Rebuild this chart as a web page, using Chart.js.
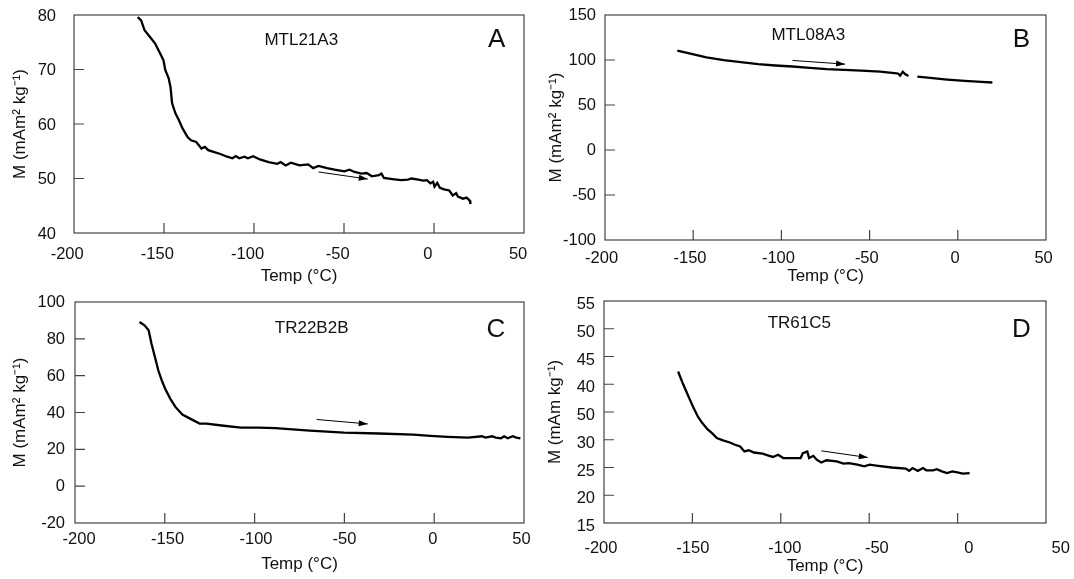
<!DOCTYPE html>
<html><head><meta charset="utf-8">
<script src="https://cdn.jsdelivr.net/npm/chart.js@4.4.1/dist/chart.umd.min.js"></script>
<style>
html,body{margin:0;padding:0;background:#fff;}
#wrap{position:relative;width:1074px;height:579px;overflow:hidden;background:#fff;}
canvas{position:absolute;}
</style></head><body>
<div id="wrap">
<canvas id="cA" width="537" height="290" style="left:0;top:0;width:537px;height:290px"></canvas>
<canvas id="cB" width="537" height="290" style="left:537px;top:0;width:537px;height:290px"></canvas>
<canvas id="cC" width="537" height="289" style="left:0;top:290px;width:537px;height:289px"></canvas>
<canvas id="cD" width="537" height="289" style="left:537px;top:290px;width:537px;height:289px"></canvas>
</div>
<script>
// ---------- data ----------
const xTicks = [-200, -150, -100, -50, 0, 50];
const xTickLabels = ['-200', '-150', '-100', '-50', '0', '50'];

const yTicksA = [40, 50, 60, 70, 80];
const yLabelsA = ['40', '50', '60', '70', '80'];
const yTicksB = [-100, -50, 0, 50, 100, 150];
const yLabelsB = ['-100', '-50', '0', '50', '100', '150'];
const yTicksC = [-20, 0, 20, 40, 60, 80, 100];
const yLabelsC = ['-20', '0', '20', '40', '60', '80', '100'];
const yTicksD = [15, 20, 25, 30, 35, 40, 45, 50, 55];
const yLabelsD = ['15', '20', '25', '30', '50', '40', '45', '50', '55'];

const tempA = [-164.6,-162.7,-160.8,-157.9,-155.0,-152.2,-150.3,-149.3,-147.4,-146.4,
  -145.5,-143.6,-141.7,-139.7,-136.9,-135.0,-132.1,-129.2,-127.3,-125.4,
  -122.5,-118.7,-114.9,-112.0,-110.1,-108.2,-105.3,-103.4,-100.5,-96.7,
  -91.9,-87.1,-85.2,-82.4,-79.5,-74.7,-69.9,-67.1,-64.2,-59.4,
  -54.6,-49.8,-47.0,-44.1,-40.3,-37.4,-34.5,-30.7,-29.2,-27.8,
  -23.1,-18.3,-14.5,-12.5,-8.7,-5.9,-3.9,-2.0,-0.5,0.3,
  1.8,3.3,5.6,8.5,10.4,12.3,13.3,16.1,18.1,20.0,20.2];
const magA = [79.6,79.0,77.2,76.0,74.8,73.0,71.7,69.9,68.4,66.8,
  63.8,61.9,60.7,59.2,57.6,57.0,56.7,55.5,55.8,55.2,
  54.9,54.5,54.0,53.7,54.1,53.7,54.0,53.7,54.1,53.5,
  53.0,52.7,53.0,52.4,52.9,52.4,52.6,51.9,52.3,51.9,
  51.6,51.3,51.6,51.2,50.9,51.0,50.4,50.6,50.9,50.1,
  49.9,49.7,49.8,50.0,49.8,49.6,49.7,49.1,49.4,48.5,
  49.2,48.3,48.0,47.8,46.9,47.3,46.7,46.3,46.5,45.9,45.3];

const tempB = [-159.0,-152.2,-142.5,-132.7,-123.0,-113.2,-103.5,-93.7,-84.0,-74.2,
  -64.5,-54.7,-44.0,-34.6,-33.7,-32.7,-31.2,-29.9,-28.0,-25.5,
  -22.9,-15.7,-6.0,3.8,13.5,19.6];
const magB = [110.3,107.3,102.8,99.9,97.6,95.4,93.9,92.8,91.3,89.8,
  89.1,88.3,87.0,85.2,84.8,82.6,87.0,84.4,82.2,null,
  81.5,80.2,78.3,76.8,75.7,75.0];

const tempC = [-164.1,-161.3,-159.0,-157.4,-155.5,-153.6,-151.7,-149.8,-146.9,-144.0,
  -140.2,-135.4,-130.6,-126.8,-117.2,-107.6,-98.0,-88.4,-69.3,-50.1,
  -30.9,-11.7,-2.1,7.4,18.9,26.6,28.5,32.3,34.2,37.1,
  39.0,40.9,43.8,45.7,48.0];
const magC = [89.1,87.3,84.6,77.3,70.1,62.8,57.4,52.9,47.4,42.9,
  38.9,36.4,34.0,34.0,32.8,31.8,31.8,31.5,30.2,29.1,
  28.6,28.0,27.3,26.8,26.4,27.1,26.4,27.1,26.4,26.0,
  27.1,26.0,27.1,26.4,26.0];

const tempD = [-158.1,-155.1,-152.2,-149.3,-146.8,-144.4,-141.5,-138.6,-136.2,-132.7,
  -128.8,-125.9,-123.0,-120.6,-118.1,-115.2,-110.3,-107.4,-104.5,-101.5,
  -98.6,-93.7,-88.8,-87.5,-85.0,-84.0,-81.6,-79.7,-77.1,-74.2,
  -68.4,-64.5,-61.5,-56.7,-52.8,-49.8,-45.0,-37.2,-29.4,-27.4,
  -25.5,-22.5,-19.6,-17.7,-13.8,-11.8,-8.9,-6.0,-3.0,-0.1,
  2.9,6.8];
const magD = [42.3,39.9,37.8,35.7,34.1,33.0,31.9,31.1,30.3,29.9,
  29.5,29.1,28.8,27.9,28.1,27.7,27.5,27.2,26.9,27.3,
  26.7,26.7,26.7,27.6,27.9,26.7,27.1,26.4,25.9,26.3,
  26.1,25.7,25.8,25.5,25.2,25.5,25.3,25.0,24.8,24.4,
  24.9,24.4,24.9,24.5,24.5,24.7,24.3,24.0,24.3,24.1,
  23.9,24.0];

// heating-direction arrows (tail, head)
const arrowTempA = [-64.2, -36.8]; const arrowMagA = [51.2, 49.9];
const arrowTempB = [-93.7, -63.9]; const arrowMagB = [99.5, 95.4];
const arrowTempC = [-65.4, -37.0]; const arrowMagC = [36.2, 33.8];
const arrowTempD = [-77.1, -50.8]; const arrowMagD = [28.0, 26.8];

const xTitle = 'Temp (°C)';
const yTitleAC = 'M (mAm² kg⁻¹)';
const yTitleD = 'M (mAm kg⁻¹)';

// ---------- rendering ----------
const FONT = "'Liberation Sans', Arial, Helvetica, sans-serif";
Chart.defaults.font.family = FONT;
Chart.defaults.color = '#111';
const TICK_SIZE = 16.5;

const deco = {
  id: 'panelDeco',
  afterDatasetsDraw(chart, args, o) {
    const ctx = chart.ctx, a = chart.chartArea;
    const xs = chart.scales.x, ys = chart.scales.y;
    ctx.save();
    ctx.strokeStyle = '#444';
    ctx.lineWidth = 1.2;
    ctx.strokeRect(a.left, a.top, a.right - a.left, a.bottom - a.top);
    ctx.beginPath();
    xTicks.forEach(v => {
      const px = xs.getPixelForValue(v);
      if (px > a.left + 1 && px < a.right - 1) { ctx.moveTo(px, a.bottom); ctx.lineTo(px, a.bottom - o.tickLen); }
    });
    o.yTicks.forEach(v => {
      const py = ys.getPixelForValue(v);
      if (py > a.top + 1 && py < a.bottom - 1) { ctx.moveTo(a.left, py); ctx.lineTo(a.left + o.tickLen, py); }
    });
    ctx.stroke();
    // arrow head
    const pts = chart.getDatasetMeta(1).data;
    const p0 = pts[pts.length - 2], p1 = pts[pts.length - 1];
    const ang = Math.atan2(p1.y - p0.y, p1.x - p0.x);
    const L = 9, w = 3;
    const c = Math.cos(ang), s = Math.sin(ang);
    ctx.fillStyle = '#000';
    ctx.beginPath();
    ctx.moveTo(p1.x, p1.y);
    ctx.lineTo(p1.x - L * c + w * s, p1.y - L * s - w * c);
    ctx.lineTo(p1.x - L * c - w * s, p1.y - L * s + w * c);
    ctx.closePath();
    ctx.fill();
    // labels
    ctx.fillStyle = '#111';
    ctx.textAlign = 'center';
    ctx.textBaseline = 'middle';
    ctx.font = '17px ' + FONT;
    ctx.fillText(o.name, a.left + o.nameFx * (a.right - a.left), a.top + o.nameDy);
    ctx.font = '26px ' + FONT;
    ctx.fillText(o.letter, a.right - o.letterDx, a.top + o.letterDy);
    ctx.restore();
  }
};

function makePanel(p) {
  const canvas = document.getElementById(p.id);
  const W = canvas.width - p.yWidth - p.padRight;
  const H = canvas.height;
  const xH = p.xTitleOff + 10.2;
  const padBottom = H - p.bottom - xH;
  const [dl, dr] = p.labelShift;
  const sc = (W + dr - dl) / 250;
  const lmin = -200 - dl / sc;
  const lmax = lmin + W / sc;
  const line = tempArr => tempArr.map((t, i) => ({ x: t, y: p.mag[i] }));
  new Chart(canvas, {
    type: 'scatter',
    data: {
      datasets: [
        { data: line(p.temp), showLine: true, borderColor: '#000', borderWidth: 2.3,
          pointRadius: 0, tension: 0, spanGaps: false },
        { data: p.arrowT.map((t, i) => ({ x: t, y: p.arrowM[i] })), showLine: true,
          borderColor: '#000', borderWidth: 1, pointRadius: 0, tension: 0 }
      ]
    },
    options: {
      responsive: false, animation: false, devicePixelRatio: 1,
      layout: { padding: { left: 0, top: p.top, right: p.padRight, bottom: padBottom } },
      plugins: {
        legend: { display: false }, tooltip: { enabled: false },
        panelDeco: { yTicks: p.yTicks, tickLen: 10, name: p.name, nameFx: p.nameFx, nameDy: p.nameDy,
          letter: p.letter, letterDx: p.letterDx, letterDy: p.letterDy }
      },
      scales: {
        x: { type: 'linear', display: false, min: -200, max: 50 },
        xl: {
          type: 'linear', axis: 'x', position: 'bottom', min: lmin, max: lmax,
          grid: { display: false, drawTicks: false }, border: { display: false },
          afterBuildTicks: s => { s.ticks = xTicks.map(v => ({ value: v })); },
          afterFit: s => { s.height = xH; s.paddingLeft = 0; s.paddingRight = 0; s.paddingTop = 0; s.paddingBottom = 0; },
          ticks: { autoSkip: false, maxRotation: 0, minRotation: 0, padding: p.xLabelPad,
            font: { size: TICK_SIZE }, color: '#111', callback: (v, i) => xTickLabels[i] },
          title: { display: true, text: xTitle, font: { size: 17 }, color: '#111', padding: { top: 0, bottom: 0 } }
        },
        y: {
          type: 'linear', position: 'left', min: p.yMin, max: p.yMax,
          grid: { display: false, drawTicks: false }, border: { display: false },
          afterBuildTicks: s => { s.ticks = p.yTicks.map(v => ({ value: v })); },
          afterFit: s => { s.width = p.yWidth; s.paddingLeft = 0; s.paddingRight = 0; s.paddingTop = 0; s.paddingBottom = 0; },
          ticks: { autoSkip: false, padding: p.yLabelPad, labelOffset: p.yLabelOffset,
            font: { size: TICK_SIZE }, color: '#111', callback: (v, i) => p.yLabels[i] },
          title: { display: true, text: p.yTitle, font: { size: 17 }, color: '#111',
            padding: { top: p.yTitlePad, bottom: 0 } }
        }
      }
    },
    plugins: [deco]
  });
}

makePanel({ id: 'cA', temp: tempA, mag: magA, arrowT: arrowTempA, arrowM: arrowMagA,
  yTicks: yTicksA, yLabels: yLabelsA, yMin: 40, yMax: 80, yTitle: yTitleAC,
  yWidth: 74, padRight: 13, top: 15, bottom: 233, xTitleOff: 43, xLabelPad: 11.4,
  yLabelPad: 18, yLabelOffset: 1, yTitlePad: 10.5, labelShift: [-6.8, -5.9],
  name: 'MTL21A3', nameFx: 0.505, nameDy: 25, letter: 'A', letterDx: 27.3, letterDy: 25 });

makePanel({ id: 'cB', temp: tempB, mag: magB, arrowT: arrowTempB, arrowM: arrowMagB,
  yTicks: yTicksB, yLabels: yLabelsB, yMin: -100, yMax: 150, yTitle: yTitleAC,
  yWidth: 68, padRight: 28, top: 15, bottom: 240, xTitleOff: 36, xLabelPad: 8.3,
  yLabelPad: 9, yLabelOffset: 0.5, yTitlePad: 9.2, labelShift: [-3.4, -2.4],
  name: 'MTL08A3', nameFx: 0.461, nameDy: 20, letter: 'B', letterDx: 24.7, letterDy: 25 });

makePanel({ id: 'cC', temp: tempC, mag: magC, arrowT: arrowTempC, arrowM: arrowMagC,
  yTicks: yTicksC, yLabels: yLabelsC, yMin: -20, yMax: 100, yTitle: yTitleAC,
  yWidth: 75, padRight: 13, top: 12, bottom: 233, xTitleOff: 41.3, xLabelPad: 6.4,
  yLabelPad: 10, yLabelOffset: 0.5, yTitlePad: 10.5, labelShift: [4.1, -2.6],
  name: 'TR22B2B', nameFx: 0.527, nameDy: 26.3, letter: 'C', letterDx: 28.1, letterDy: 28 });

makePanel({ id: 'cD', temp: tempD, mag: magD, arrowT: arrowTempD, arrowM: arrowMagD,
  yTicks: yTicksD, yLabels: yLabelsD, yMin: 15, yMax: 55, yTitle: yTitleD,
  yWidth: 67, padRight: 28, top: 11, bottom: 233, xTitleOff: 43, xLabelPad: 15.3,
  yLabelPad: 9, yLabelOffset: 3.5, yTitlePad: 8.2, labelShift: [-3.1, 14.8],
  name: 'TR61C5', nameFx: 0.442, nameDy: 22.3, letter: 'D', letterDx: 24.7, letterDy: 29 });
</script>
</body></html>
